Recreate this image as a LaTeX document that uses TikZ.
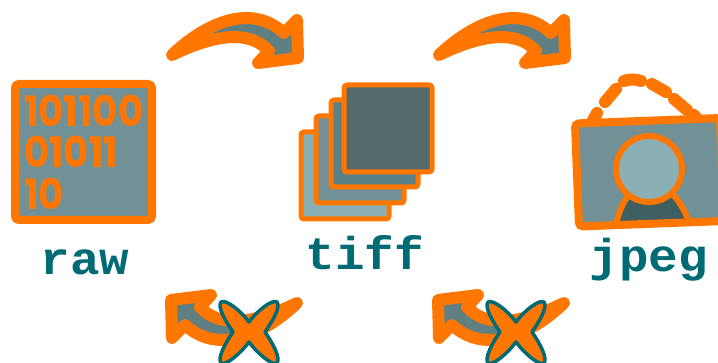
\documentclass[tikz,border=0pt]{standalone}
\usepackage{fontspec}
\setmonofont[FakeStretch=1.07]{Liberation Mono}
\newfontfamily\digitfont[FakeStretch=0.92]{Poppins}
\definecolor{orng}{HTML}{FF7600}
\definecolor{tealtxt}{HTML}{006A75}
\definecolor{slate}{HTML}{5F7F82}
\definecolor{midgray}{HTML}{719196}
\definecolor{lightgray}{HTML}{8AB0B5}
\definecolor{darkslate}{HTML}{546A6B}
\definecolor{midslate}{HTML}{5A8088}
\definecolor{bodyc}{HTML}{3F5F60}
\tikzset{
 lbl/.style={font=\ttfamily\bfseries\fontsize{46}{46}\selectfont,text=tealtxt,inner sep=0,anchor=base},
 digits/.style={font=\digitfont\bfseries\fontsize{42}{42}\selectfont,text=orng,inner sep=0,anchor=base west},
 sheet/.style={draw=orng,line width=5pt,rounded corners=3pt},
 arrowshape/.style={draw=orng,fill=slate,line width=12pt,line join=round,line cap=round},
 crossmark/.style={draw=tealtxt,fill=orng,line width=3.5pt,line join=round},
}
\newcommand{\bigarrow}{
 (172,55) .. controls (200,28) and (248,0) .. (284,33) -- (297,20) -- (298,58) -- (258,63) -- (269,51) .. controls (250,30) and (215,34) .. cycle
}
\newcommand{\crossshape}{
 (0,-10) .. controls (8,-21) and (23,-33) .. (28,-30) .. controls (32,-25) and (23,-10) .. (16,0)
 .. controls (23,10) and (32,26) .. (28,31) .. controls (23,34) and (8,21) .. (0,10)
 .. controls (-8,21) and (-23,34) .. (-28,31) .. controls (-32,26) and (-23,10) .. (-16,0)
 .. controls (-23,-10) and (-32,-25) .. (-28,-30) .. controls (-23,-33) and (-8,-21) .. cycle
}
\begin{document}
\begin{tikzpicture}[x=1pt,y=-1pt]
\useasboundingbox (0,0) rectangle (718,363);
\clip (0,0) rectangle (718,363);
% top arrows
\path[arrowshape] \bigarrow;
\begin{scope}[xshift=267pt]\path[arrowshape] \bigarrow;\end{scope}
% raw
\draw[draw=orng,fill=midgray,line width=8pt,rounded corners=4pt] (15,84) rectangle (152,220);
\node[digits] (d1) at (24,127) {101100};
\node[digits] (d2) at (24,168) {01011};
\node[digits] (d3) at (24,210) {10};
\node[lbl] (raw) at (85,275) {raw};
% tiff
\draw[sheet,fill=lightgray] (301,132) rectangle (389,219);
\draw[sheet,fill=midgray] (316,116) rectangle (404,203);
\draw[sheet,fill=midslate] (331,100) rectangle (418,187);
\draw[sheet,fill=darkslate] (344,85) rectangle (432,172);
\node[lbl] (tiff) at (365,270) {tiff};
% jpeg
\draw[orng,line width=12pt,line cap=round]
 (592,122) -- (597,113) (605,102) -- (616,89)
 (624,81) .. controls (629,79) and (636,79) .. (641,81)
 (652,84) -- (666,92) (674,99) -- (687,110) (694,115) -- (700,122);
\fill[midgray] (575,123.5) -- (720,118) -- (724,221) -- (579,226.5) -- cycle;
\draw[orng,fill=bodyc,line width=6pt] (616,224) .. controls (622,200) and (632,185) .. (649,185) .. controls (668,185) and (680,198) .. (690,224);
\draw[orng,fill=lightgray,line width=6pt] (649,169) circle (33);
\draw[orng,line width=8pt,rounded corners=4pt] (575,123.5) -- (720,118) -- (724,221) -- (579,226.5) -- cycle;
\node[lbl] (jpeg) at (649,272) {jpeg};
% bottom arrows
\begin{scope}[shift={(469pt,-358pt)},xscale=-1,yscale=-1]\path[arrowshape] \bigarrow;\end{scope}
\begin{scope}[shift={(736pt,-358pt)},xscale=-1,yscale=-1]\path[arrowshape] \bigarrow;\end{scope}
\begin{scope}[shift={(249pt,-332pt)}]\draw[crossmark] \crossshape;\end{scope}
\begin{scope}[shift={(516pt,-332pt)}]\draw[crossmark] \crossshape;\end{scope}
\end{tikzpicture}
\end{document}
